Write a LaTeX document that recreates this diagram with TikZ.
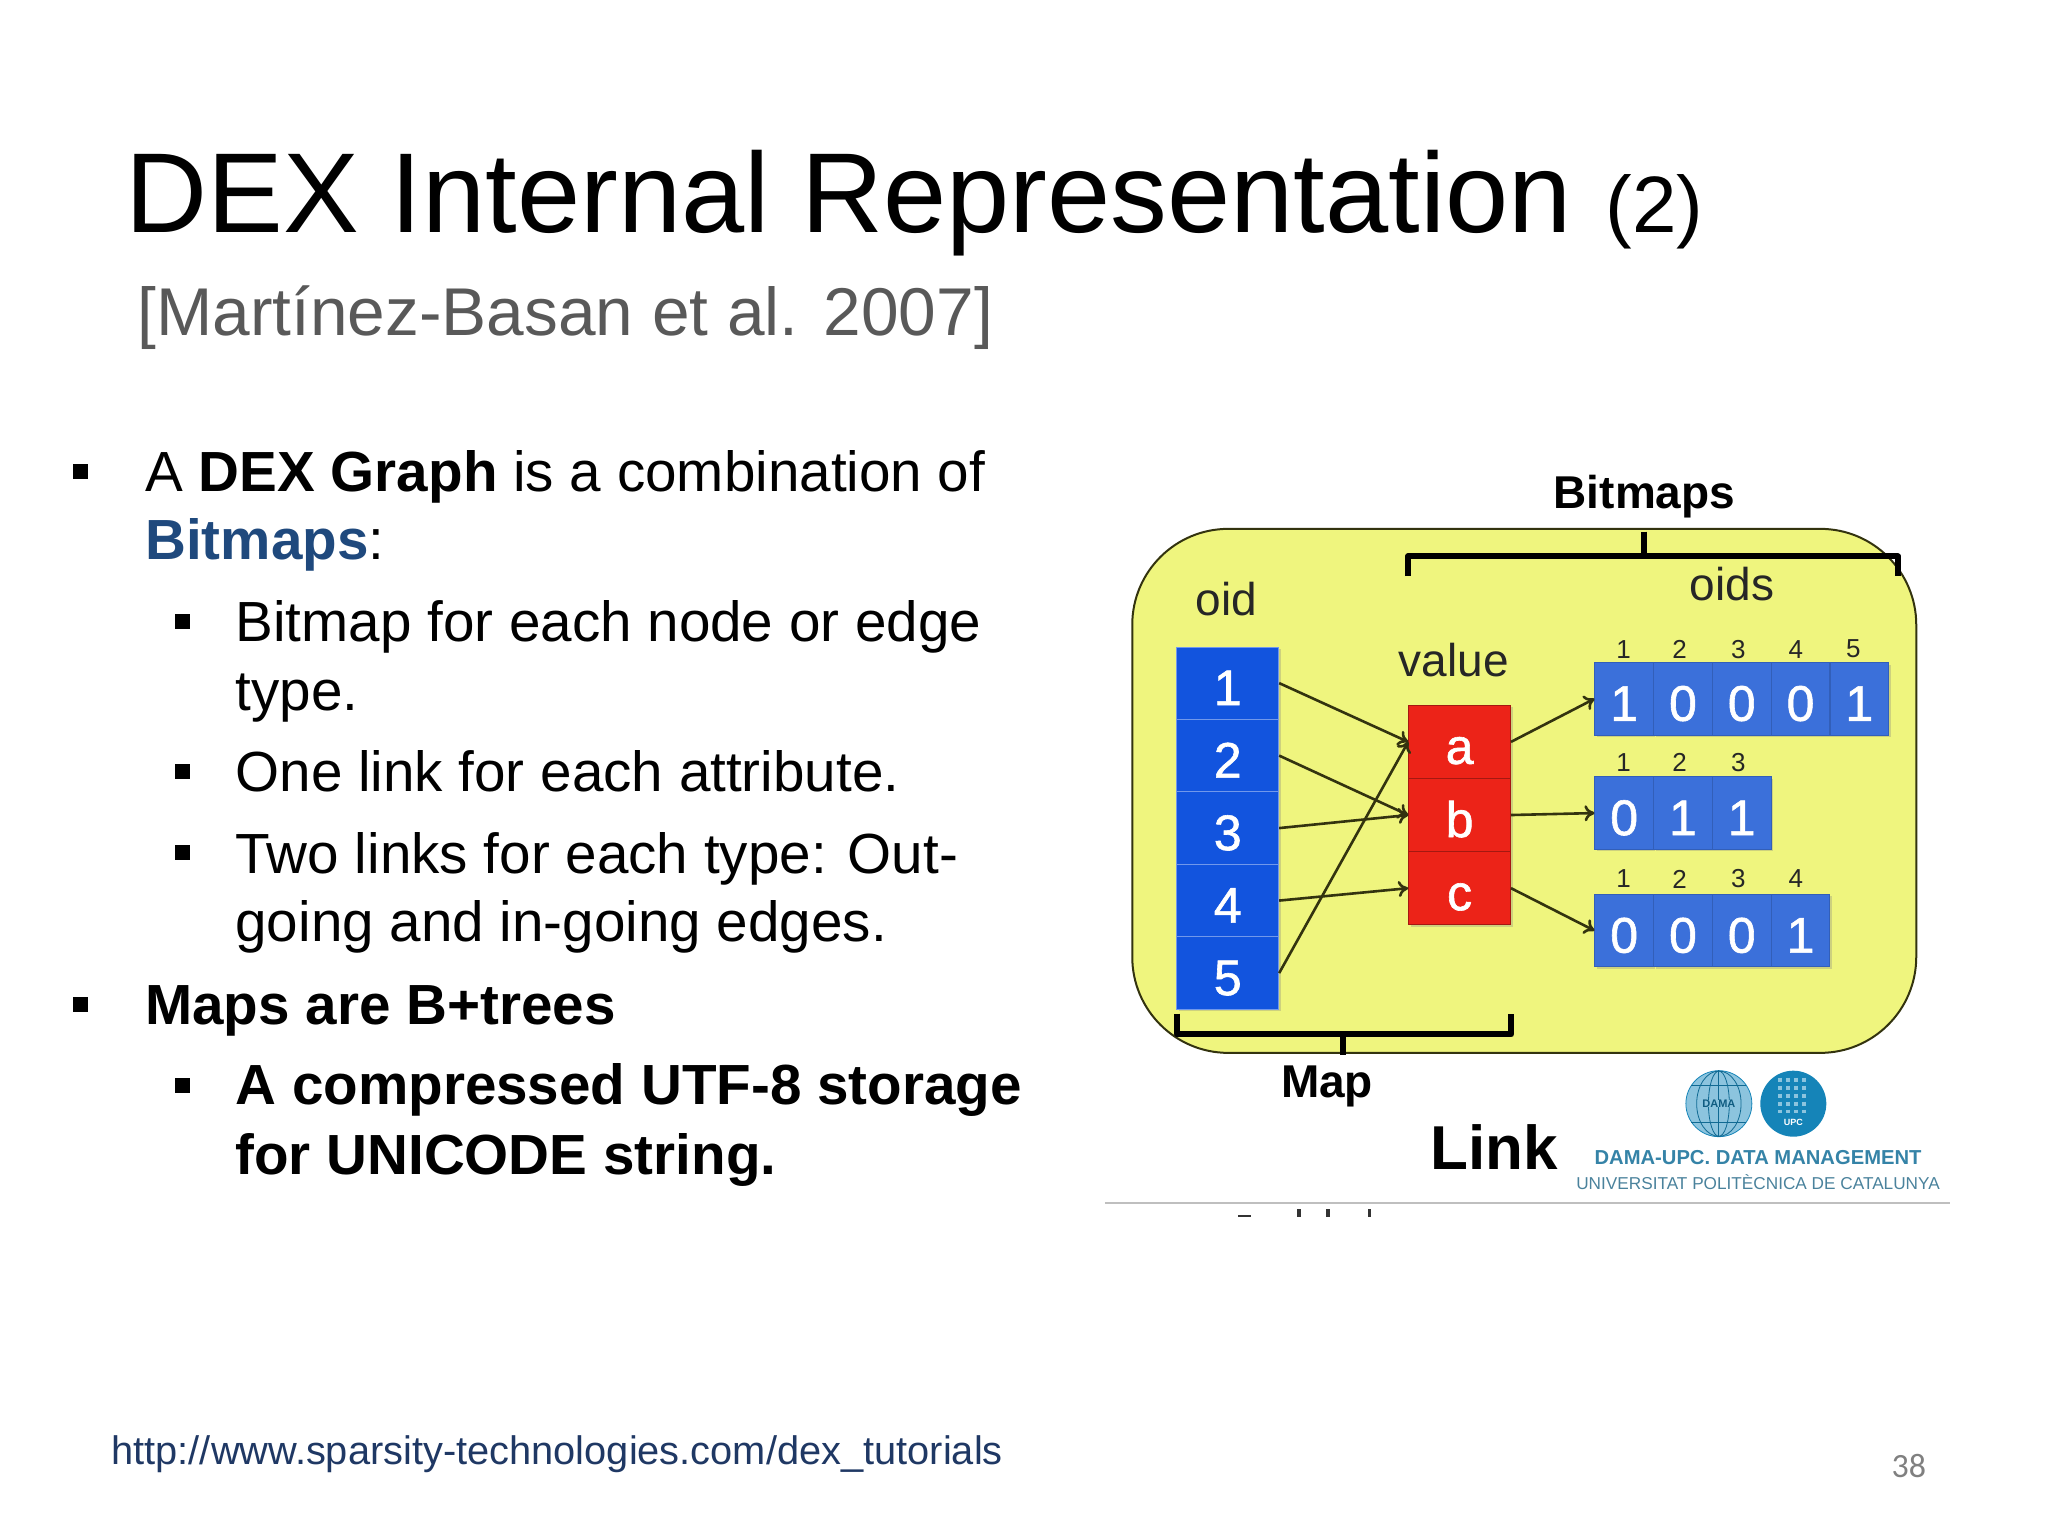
\documentclass[tikz,border=0pt]{standalone}
\usepackage{fontspec}
\setmainfont{Liberation Sans}
\newfontfamily\calibrifont{Carlito}
\newfontfamily\cellfont[FakeBold=1.2]{Liberation Sans}
\usetikzlibrary{shadows,arrows.meta}
\definecolor{slideyellow}{HTML}{EFF57E}
\definecolor{oidblue}{HTML}{1254DE}
\definecolor{bitblue}{HTML}{3B70DA}
\definecolor{valred}{HTML}{EC2318}
\definecolor{subgrey}{HTML}{595959}
\definecolor{linkblue}{HTML}{1F497D}
\definecolor{urlblue}{HTML}{1F3864}
\definecolor{olive}{HTML}{33330F}
\definecolor{logoblue}{HTML}{1584B8}
\definecolor{logopale}{HTML}{8CC4DE}
\begin{document}
\begin{tikzpicture}[x=0.65306pt,y=-0.65306pt]
        \tikzstyle{title}=[anchor=base west,inner sep=0pt,font=\fontsize{56.8}{64}\selectfont]
        \tikzstyle{body}=[anchor=base west,inner sep=0pt,font=\fontsize{28.3}{34}\selectfont]
        \tikzstyle{bullet}=[fill=black,inner sep=0pt,minimum size=7.5pt]
        \tikzstyle{oidcell}=[fill=oidblue,draw=oidblue!60!white,inner sep=0pt,minimum width=51pt,minimum height=36.2pt,text=white,text height=22pt,text depth=0pt,font=\cellfont\fontsize{25}{28}\selectfont,drop shadow={shadow xshift=1pt,shadow yshift=-1pt,opacity=.3}]
        \tikzstyle{valcell}=[oidcell,fill=valred,draw=valred!70!black,minimum height=36.6pt]
        \tikzstyle{bitcell}=[oidcell,fill=bitblue,draw=bitblue!85!black,minimum width=29.3pt]
        \tikzstyle{index}=[inner sep=0pt,font=\fontsize{13}{15}\selectfont,text=black!85]
        \tikzstyle{label}=[inner sep=0pt,font=\fontsize{23}{27}\selectfont,text=black!85]
        \tikzstyle{caption}=[inner sep=0pt,font=\bfseries\fontsize{23}{27}\selectfont,text=black]
        \tikzstyle{edge}=[draw=olive,line width=1.3pt,-{To[length=5pt,width=8pt]}]
        \tikzstyle{brace}=[draw=black,line width=3pt,line join=round]
        \tikzstyle{globe}=[draw=logoblue!80!black,line width=.4pt]
        \useasboundingbox (0,0) rectangle (1568,1176);

        \node [title] (head) at (96,178) {DEX Internal Representation};
        \node [title,font=\fontsize{40}{46}\selectfont] (headnum) at (1229,178) {(2)};
        \node [title,font=\fontsize{33.8}{40}\selectfont,text=subgrey] (cite) at (105,257) {[Martínez-Basan et al. 2007]};

        \node [bullet] (b1) at (62,361) {};
        \node [body] (t1) at (111,376) {A \textbf{DEX Graph} is a combination of};
        \node [body] (t2) at (111,428) {\textcolor{linkblue}{\textbf{Bitmaps}}:};
        \node [bullet] (b2) at (140,476) {};
        \node [body] (t3) at (180,491) {Bitmap for each node or edge};
        \node [body] (t4) at (180,544) {type.};
        \node [bullet] (b3) at (140,591) {};
        \node [body] (t5) at (180,606) {One link for each attribute.};
        \node [bullet] (b4) at (140,653) {};
        \node [body] (t6) at (180,669) {Two links for each type: Out-};
        \node [body] (t7) at (180,721) {going and in-going edges.};
        \node [bullet] (b5) at (62,769) {};
        \node [body] (t8) at (111,784) {\textbf{Maps are B+trees}};
        \node [bullet] (b6) at (140,831) {};
        \node [body] (t9) at (180,846) {\textbf{A compressed UTF-8 storage}};
        \node [body] (t10) at (180,899) {\textbf{for UNICODE string.}};

        \node [title,font=\fontsize{19.9}{24}\selectfont,text=urlblue] (url) at (85,1121) {http://www.sparsity-technologies.com/dex\_tutorials};
        \node [title,font=\calibrifont\fontsize{17}{20}\selectfont,text=black!50] (page) at (1448,1131) {38};

        \node [draw=olive,fill=slideyellow,line width=1pt,rounded corners=48pt,minimum width=392pt,minimum height=262pt,inner sep=0pt] (panel) at (1167,605.5) {};

        \node [label] (oidlab) at (939,459) {oid};
        \node [label] (vallab) at (1113,505) {value};
        \node [label] (oidslab) at (1326,447) {oids};

        \node [oidcell] (o1) at (940,523) {1};
        \node [oidcell] (o2) at (940,578.5) {2};
        \node [oidcell] (o3) at (940,634) {3};
        \node [oidcell] (o4) at (940,689.5) {4};
        \node [oidcell] (o5) at (940,745) {5};

        \node [valcell] (va) at (1117.5,568) {a};
        \node [valcell] (vb) at (1117.5,624) {b};
        \node [valcell] (vc) at (1117.5,680) {c};

        \node [bitcell] (r11) at (1243.5,535) {1};
        \node [bitcell] (r12) at (1288.5,535) {0};
        \node [bitcell] (r13) at (1333.5,535) {0};
        \node [bitcell] (r14) at (1378.5,535) {0};
        \node [bitcell] (r15) at (1423.5,535) {1};
        \node [bitcell] (r21) at (1243.5,622.5) {0};
        \node [bitcell] (r22) at (1288.5,622.5) {1};
        \node [bitcell] (r23) at (1333.5,622.5) {1};
        \node [bitcell] (r31) at (1243.5,712.5) {0};
        \node [bitcell] (r32) at (1288.5,712.5) {0};
        \node [bitcell] (r33) at (1333.5,712.5) {0};
        \node [bitcell] (r34) at (1378.5,712.5) {1};

        \node [index] (i11) at (1243,497) {1};
        \node [index] (i12) at (1286,497) {2};
        \node [index] (i13) at (1331,497) {3};
        \node [index] (i14) at (1375,497) {4};
        \node [index] (i15) at (1419,497) {5};
        \node [index] (i21) at (1243,584) {1};
        \node [index] (i22) at (1286,584) {2};
        \node [index] (i23) at (1331,584) {3};
        \node [index] (i31) at (1243,673) {1};
        \node [index] (i32) at (1286,673) {2};
        \node [index] (i33) at (1331,673) {3};
        \node [index] (i34) at (1375,673) {4};

        \path[edge] (o1.east) -- (va.west);
        \path[edge] (o2.east) -- (vb.west);
        \path[edge] (o3.east) -- (vb.west);
        \path[edge] (o4.east) -- (vc.west);
        \path[edge] (o5.east) -- (va.west);
        \path[edge] (va.east) -- (r11.west);
        \path[edge] (vb.east) -- (r21.west);
        \path[edge] (vc.east) -- (r31.west);

        \coordinate (bt) at (1259,407);
        \coordinate (bm) at (1259,426);
        \coordinate (bl) at (1078,426);
        \coordinate (br) at (1453,426);
        \coordinate (mt) at (1028,792);
        \coordinate (mb) at (1028,808);
        \coordinate (ml) at (901,792);
        \coordinate (mr) at (1157,792);
        \draw[brace] (1078,441) -- (bl) -- (br) -- (1453,441);
        \draw[brace] (bt) -- (bm);
        \draw[brace] (901,776) -- (ml) -- (mr) -- (1157,776);
        \draw[brace] (mt) -- (mb);

        \node [caption] (bitlab) at (1259,380) {Bitmaps};
        \node [caption] (maplab) at (1016,832) {Map};
        \node [caption,font=\bfseries\fontsize{31}{36}\selectfont] (linklab) at (1144,878) {Link};

        \node [circle,fill=logopale,draw=logoblue,minimum size=33pt,inner sep=0pt] (dama) at (1316,845) {};
        \draw[globe] (dama.center) ellipse (8 and 25);
        \draw[globe] (dama.center) ellipse (17 and 25);
        \draw[globe] (dama.north) -- (dama.south);
        \draw[globe] (1295,831) -- (1337,831);
        \draw[globe] (1295,859) -- (1337,859);
        \node [inner sep=0pt,fill=logopale,text=logoblue!70!black,font=\bfseries\fontsize{5.5}{6}\selectfont] (damatext) at (dama.center) {DAMA};
        \node [circle,fill=logoblue,minimum size=33pt,inner sep=0pt] (upc) at (1373,845) {};
        \draw[logopale,line width=2pt,dash pattern=on 2pt off 2pt] (1363,825) -- (1363,852) (1369,825) -- (1369,852) (1375,825) -- (1375,852) (1381,825) -- (1381,852);
        \node [inner sep=0pt,text=white,font=\bfseries\fontsize{4.5}{5}\selectfont] (upctext) at (1373,859) {UPC};
        \node [inner sep=0pt,text=logoblue!70!gray,font=\bfseries\fontsize{10.1}{12}\selectfont] (dept) at (1346,886) {DAMA-UPC. DATA MANAGEMENT};
        \node [inner sep=0pt,text=logoblue!50!gray,font=\fontsize{8.6}{10}\selectfont] (univ) at (1346,905) {UNIVERSITAT POLITÈCNICA DE CATALUNYA};

        \coordinate (rulea) at (846,921);
        \coordinate (ruleb) at (1493,921);
        \draw[black!25,line width=1pt] (rulea) -- (ruleb);
        \fill[black!80] (948,930) rectangle (958,932);
        \fill[black!80] (993,926) rectangle (996,932);
        \fill[black!80] (1015,926) rectangle (1018,932);
        \fill[black!80] (1047,926) rectangle (1050,932);
\end{tikzpicture}
\end{document}
